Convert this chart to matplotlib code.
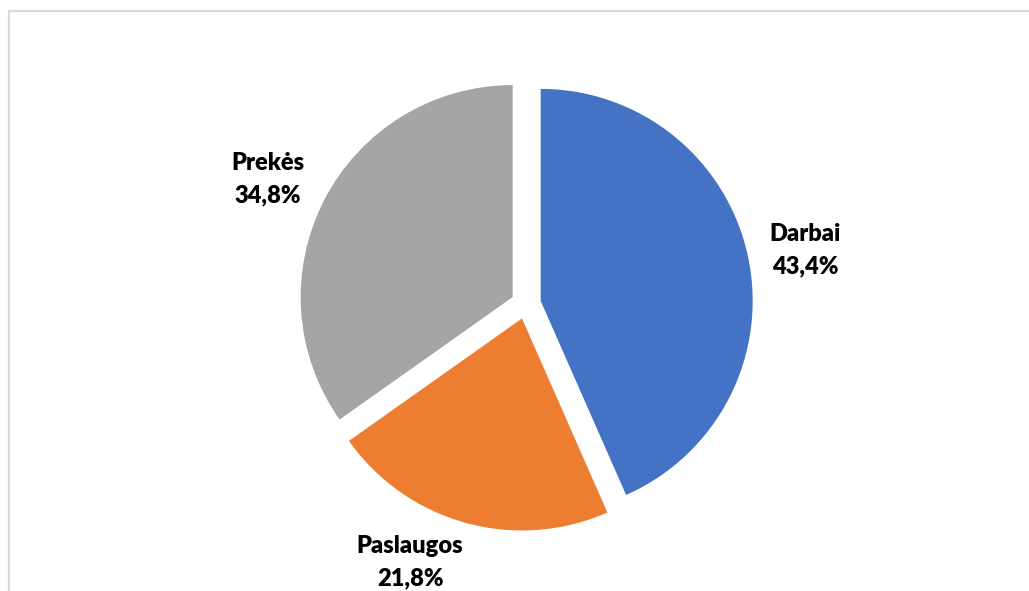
import matplotlib
matplotlib.use("Agg")
import matplotlib.pyplot as plt

# data
labels = ["Darbai", "Paslaugos", "Prekės"]
shares = [43.4, 21.8, 34.8]
colors = ["#4472C4", "#ED7D31", "#A5A5A5"]

# layout (pixels)
W, H = 1029, 591
cx, cy = 526, H - 304
radius = 212
gap = 15
label_xy = [(805, H - 250), (410, H - 562), (268, H - 179)]

fig = plt.figure(figsize=(W / 100, H / 100), dpi=100)
ax = fig.add_axes([0, 0, 1, 1])

ax.pie(shares, colors=colors, startangle=90, counterclock=False,
       center=(cx, cy), radius=radius, explode=[gap] * len(shares),
       frame=True)
ax.set_xlim(0, W)
ax.set_ylim(0, H)
ax.set_aspect("equal")
ax.axis("off")

for lab, val, (x, y) in zip(labels, shares, label_xy):
    txt = lab + "\n" + ("%.1f%%" % val).replace(".", ",")
    ax.text(x, y, txt, ha="center", va="center", fontsize=17,
            fontweight="heavy", family="Lato", linespacing=1.55)

# chart border (only left and top visible)
ax.plot([9, 9, W], [0, H - 10.5, H - 10.5], color="#D9D9D9", lw=1.6,
        solid_joinstyle="miter", clip_on=False)

fig.savefig("out.png", dpi=100)
